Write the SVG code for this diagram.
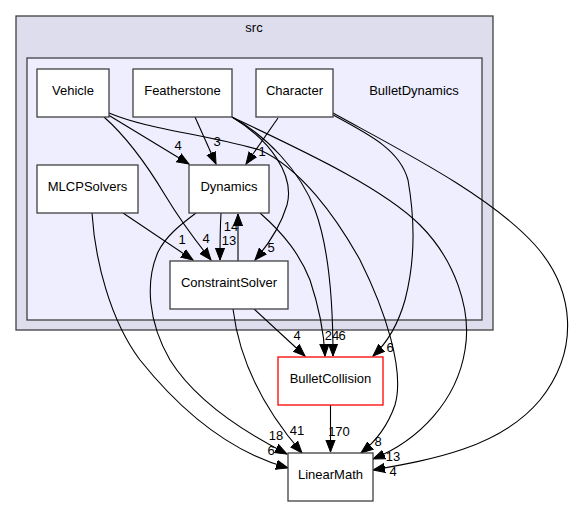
<svg xmlns="http://www.w3.org/2000/svg" width="577" height="507" viewBox="0 0 577 507">
<style>
text{font-family:"Liberation Sans",Arial,sans-serif;font-size:13px;fill:#000;text-anchor:middle}
.node rect{fill:#fff;stroke:#404040;stroke-width:1.3}
.edge path{fill:none;stroke:#000;stroke-width:1.1}
</style>
<defs>
<marker id="ah" markerUnits="userSpaceOnUse" markerWidth="14" markerHeight="11" viewBox="0 -5.5 14 11" refX="12" refY="0" orient="auto">
<path d="M0,-4.6 L12,0 L0,4.6 z" fill="#000" stroke="#000" stroke-width="1"/>
</marker>
</defs>
<rect width="577" height="507" fill="#fff"/>
<g id="cluster_src">
<rect x="16" y="16" width="477" height="314" fill="#ddddee" stroke="#404040" stroke-width="1.3"/>
<text x="254" y="32">src</text>
</g>
<g id="cluster_BulletDynamics">
<rect x="27" y="58" width="455" height="262" fill="#eeeeff" stroke="#404040" stroke-width="1.3"/>
<text x="414" y="95">BulletDynamics</text>
</g>
<g id="edges" class="edge">
<path d="M105,113 L189,164" marker-end="url(#ah)"/>
<path d="M195,117 L216,164" marker-end="url(#ah)"/>
<path d="M278,118 L246,164" marker-end="url(#ah)"/>
<path d="M104,117 C130,140 150,170 165,195 C180,220 195,240 211,260" marker-end="url(#ah)"/>
<path d="M123,213 L193,260" marker-end="url(#ah)"/>
<path d="M221,213 C220,230 220,245 220,260" marker-end="url(#ah)"/>
<path d="M238,261 L238,214" marker-end="url(#ah)"/>
<path d="M232,117 C270,140 295,175 287,205 C280,228 268,245 255,260" marker-end="url(#ah)"/>
<path d="M260,213 C285,235 300,255 310,280 C320,310 324,335 325,356" marker-end="url(#ah)"/>
<path d="M232,117 C265,135 300,170 315,210 C328,245 333,300 333,356" marker-end="url(#ah)"/>
<path d="M333,115 C370,135 400,150 408,180 C415,220 415,262 405,300 C398,325 388,342 373,356" marker-end="url(#ah)"/>
<path d="M109,113 C150,130 200,133 260,150 C300,168 335,215 360,260 C385,310 405,370 395,405 C387,428 375,442 361,453" marker-end="url(#ah)"/>
<path d="M232,117 C290,145 380,185 420,225 C455,260 472,310 465,350 C457,400 420,440 373,459" marker-end="url(#ah)"/>
<path d="M333,113 C400,150 490,195 535,245 C575,290 580,350 540,400 C500,448 430,460 373,470" marker-end="url(#ah)"/>
<path d="M196,213 C180,225 166,236 158,252 C145,282 148,322 170,360 C195,400 240,430 287,454" marker-end="url(#ah)"/>
<path d="M92,213 C95,260 110,320 140,360 C180,410 230,452 288,468" marker-end="url(#ah)"/>
<path d="M233,309 C238,350 256,400 302,453" marker-end="url(#ah)"/>
<path d="M254,309 L305,356" marker-end="url(#ah)"/>
<path d="M330.5,405 L330.5,452" marker-end="url(#ah)"/>
<text x="178" y="150">4</text>
<text x="217" y="146">3</text>
<text x="262" y="156">1</text>
<text x="182" y="244">1</text>
<text x="206" y="243">4</text>
<text x="229" y="245">13</text>
<text x="231" y="231">14</text>
<text x="271" y="252">5</text>
<text x="297" y="340">4</text>
<text x="332" y="340">24</text>
<text x="342" y="340">6</text>
<text x="390" y="352">6</text>
<text x="276" y="440">18</text>
<text x="271" y="455">6</text>
<text x="297" y="435">41</text>
<text x="339" y="436">170</text>
<text x="378" y="446">8</text>
<text x="393" y="461">13</text>
<text x="393" y="476">4</text>
</g>
<g id="node_Vehicle" class="node">
<rect x="37" y="69" width="72" height="48"/>
<text x="73" y="95">Vehicle</text>
</g>
<g id="node_Featherstone" class="node">
<rect x="133" y="69" width="99" height="48"/>
<text x="182.5" y="95">Featherstone</text>
</g>
<g id="node_Character" class="node">
<rect x="256" y="69" width="77" height="48"/>
<text x="294.5" y="95">Character</text>
</g>
<g id="node_MLCPSolvers" class="node">
<rect x="37" y="165" width="101" height="48"/>
<text x="87.5" y="191">MLCPSolvers</text>
</g>
<g id="node_Dynamics" class="node">
<rect x="189" y="165" width="80" height="48"/>
<text x="229" y="191">Dynamics</text>
</g>
<g id="node_ConstraintSolver" class="node">
<rect x="170" y="261" width="118" height="48"/>
<text x="229" y="287">ConstraintSolver</text>
</g>
<g id="node_BulletCollision" class="node">
<rect x="278" y="357" width="105" height="48" style="stroke:#ff0000"/>
<text x="330.5" y="383">BulletCollision</text>
</g>
<g id="node_LinearMath" class="node">
<rect x="288" y="453" width="85" height="48"/>
<text x="330.5" y="479">LinearMath</text>
</g>
</svg>
